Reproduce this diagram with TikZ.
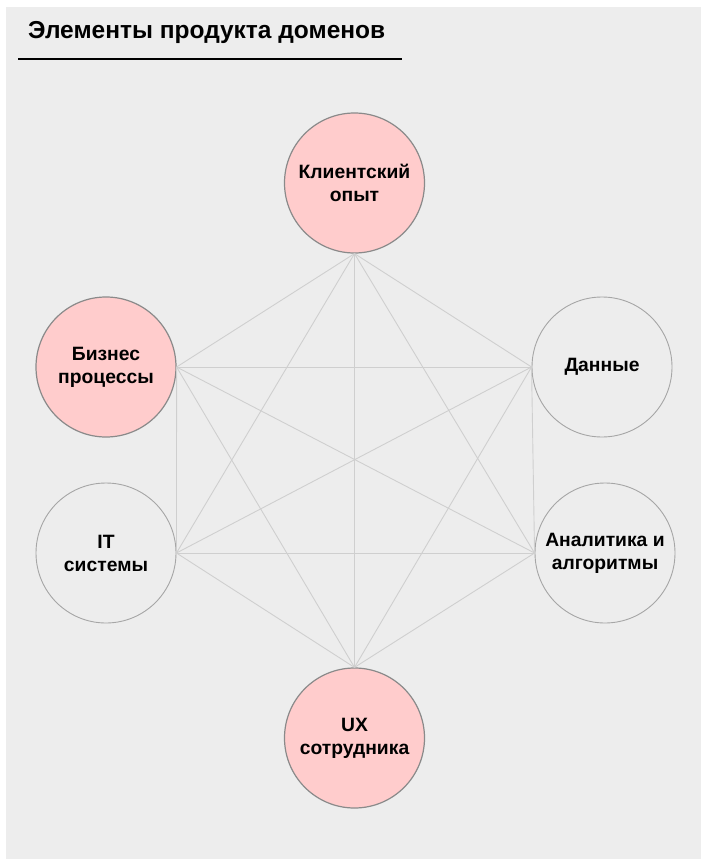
\documentclass[tikz,border=0pt]{standalone}
\usepackage{fontspec}
\setmainfont{Liberation Sans}
\definecolor{bgc}{HTML}{EDEDED}
\definecolor{pinkc}{HTML}{FFCCCC}
\definecolor{pinkline}{HTML}{8A8A8A}
\definecolor{greyline}{HTML}{A6A6A6}
\definecolor{edgec}{HTML}{CFCFCF}
\tikzset{
  dom/.style={circle, draw=greyline, line width=0.9pt, fill=bgc, minimum size=140pt, inner sep=0pt,
    align=center, font=\fontsize{19.3}{23}\selectfont\bfseries, text=black},
  hot/.style={dom, fill=pinkc, draw=pinkline, line width=1.2pt},
  link/.style={draw=edgec, line width=0.9pt}
}
\begin{document}
\begin{tikzpicture}[x=1pt,y=-1pt]
\useasboundingbox (0,0) rectangle (701,859);
\fill[white] (0,0) rectangle (701,859);
\fill[bgc] (6,7) rectangle (701,859);
\node[anchor=base west, font=\fontsize{24.5}{29}\selectfont\bfseries, inner sep=0pt] (title) at (28,38) {Элементы продукта доменов};
\coordinate (ul1) at (18,59);
\coordinate (ul2) at (402,59);
\draw[line width=1.2pt, black] (ul1) -- (ul2);

\node[hot] (kl) at (354.5,183) {Клиентский\\опыт};
\node[hot] (bz) at (106,367) {Бизнес\\процессы};
\node[dom] (dn) at (602,367) {Данные};
\node[dom] (it) at (106,553) {IT\\системы};
\node[dom] (an) at (605,553) {Аналитика и\\алгоритмы};
\node[hot] (ux) at (354.5,738) {UX\\сотрудника};

\foreach \a/\b in {kl.south/bz.east, kl.south/dn.west, kl.south/it.east, kl.south/an.west, kl.south/ux.north,
  bz.east/dn.west, bz.east/it.east, bz.east/an.west, bz.east/ux.north,
  dn.west/it.east, dn.west/an.west, dn.west/ux.north,
  it.east/an.west, it.east/ux.north,
  an.west/ux.north}
  \draw[link] (\a) -- (\b);
\end{tikzpicture}
\end{document}
